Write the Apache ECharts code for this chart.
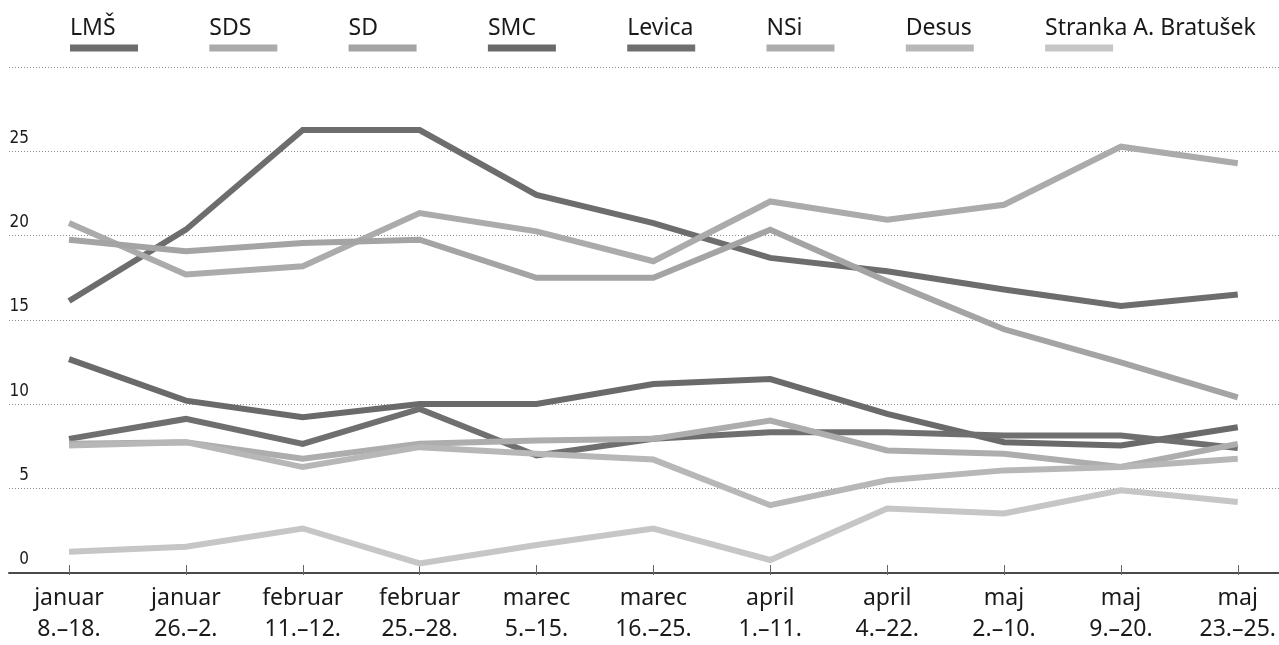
<!DOCTYPE html>
<html>
<head>
<meta charset="utf-8">
<script src="https://cdn.jsdelivr.net/npm/echarts@6/dist/echarts.min.js"></script>
<style>
html,body{margin:0;padding:0;background:#fff;}
#chart{width:1279px;height:645px;}
</style>
</head>
<body>
<div id="chart"></div>
<script>
// ---- data ----
var categories = ['januar\n8.–18.', 'januar\n26.–2.', 'februar\n11.–12.', 'februar\n25.–28.', 'marec\n5.–15.', 'marec\n16.–25.', 'april\n1.–11.', 'april\n4.–22.', 'maj\n2.–10.', 'maj\n9.–20.', 'maj\n23.–25.'];
var seriesNames = ['LMŠ', 'SDS', 'SD', 'SMC', 'Levica', 'NSi', 'Desus', 'Stranka A. Bratušek'];
var LMS    = [15.9, 20.2, 26.2, 26.2, 22.3, 20.6, 18.5, 17.7, 16.6, 15.6, 16.3];
var SDS    = [20.6, 17.5, 18.0, 21.2, 20.1, 18.3, 21.9, 20.8, 21.7, 25.2, 24.2];
var SD     = [19.6, 18.9, 19.4, 19.6, 17.3, 17.3, 20.2, 17.1, 14.2, 12.2, 10.1];
var SMC    = [12.4, 9.9, 8.9, 9.7, 9.7, 10.9, 11.2, 9.1, 7.4, 7.2, 8.3];
var Levica = [7.6, 8.8, 7.3, 9.4, 6.6, 7.6, 8.0, 8.0, 7.8, 7.8, 7.05];
var NSi    = [7.3, 7.4, 6.4, 7.3, 7.5, 7.6, 8.7, 6.9, 6.7, 5.9, 7.3];
var Desus  = [7.2, 7.4, 5.9, 7.1, 6.7, 6.35, 3.6, 5.1, 5.7, 5.9, 6.4];
var SAB    = [0.8, 1.1, 2.2, 0.1, 1.2, 2.2, 0.3, 3.4, 3.1, 4.5, 3.8];
var yTicks = [0, 5, 10, 15, 20, 25, 30];

var seriesData = [LMS, SDS, SD, SMC, Levica, NSi, Desus, SAB];
var colors = ['#6d6d6d', '#ababab', '#a4a4a4', '#6a6a6a', '#6f6f6f', '#adadad', '#b7b7b7', '#c6c6c6'];

var chart = echarts.init(document.getElementById('chart'), null, {renderer: 'canvas'});

var rich = {
  t: {fontSize: 23, fontFamily: 'Noto Sans', color: '#1a1a1a', width: 133.3, lineHeight: 28, align: 'left'}
};
colors.forEach(function (c, i) {
  rich['b' + i] = {width: 68, height: 7, lineHeight: 12, backgroundColor: c};
});

var series = seriesNames.map(function (n, i) {
  return {
    name: n,
    type: 'line',
    xAxisIndex: 0,
    yAxisIndex: 0,
    data: seriesData[i],
    symbol: 'none',
    color: colors[i],
    lineStyle: {width: 6, color: colors[i], cap: 'butt', join: 'miter'},
    animation: false,
    z: 3
  };
});

var option = {
  backgroundColor: '#ffffff',
  animation: false,
  color: colors,
  legend: {
    left: 64,
    top: 16.5,
    padding: 0,
    itemGap: 0,
    itemWidth: 0,
    itemHeight: 0,
    selectedMode: false,
    data: seriesNames,
    formatter: function (name) {
      var idx = seriesNames.indexOf(name);
      return '{t|' + name + '}\n{b' + idx + '|}';
    },
    textStyle: {rich: rich}
  },
  grid: [
    {left: 69, right: 36.5, top: 67, bottom: 72},
    {left: 9, right: 0, top: 67, bottom: 72}
  ],
  xAxis: [
    {
      gridIndex: 0,
      type: 'category',
      boundaryGap: false,
      data: categories,
      axisLine: {show: false},
      axisTick: {show: true, length: 10, lineStyle: {color: '#666', width: 1}},
      axisLabel: {
        fontSize: 23, fontFamily: 'Noto Sans', color: '#1a1a1a',
        lineHeight: 31, margin: 18, interval: 0
      },
      splitLine: {show: false}
    },
    {
      gridIndex: 1,
      type: 'value',
      min: 0, max: 1,
      axisLine: {show: true, lineStyle: {color: '#4a4a4a', width: 2}},
      axisTick: {show: false},
      axisLabel: {show: false},
      splitLine: {show: false}
    }
  ],
  yAxis: [
    {
      gridIndex: 0,
      type: 'value',
      min: 0, max: 30, interval: 5,
      show: false,
      splitLine: {show: false}
    },
    {
      gridIndex: 1,
      type: 'value',
      min: yTicks[0], max: yTicks[yTicks.length - 1], interval: 5,
      offset: -20,
      axisLine: {show: false},
      axisTick: {show: false},
      axisLabel: {
        margin: 0,
        align: 'right',
        verticalAlign: 'bottom',
        padding: [0, 0, 4, 0],
        fontSize: 17,
        lineHeight: 18,
        fontFamily: "'DejaVu Sans Condensed', sans-serif",
        color: '#1a1a1a',
        formatter: function (v) { return v === 30 ? '' : String(v); }
      },
      splitLine: {show: true, lineStyle: {type: [1, 2], color: '#8a8a8a', width: 1}}
    }
  ],
  series: series
};

chart.setOption(option);
</script>
</body>
</html>
